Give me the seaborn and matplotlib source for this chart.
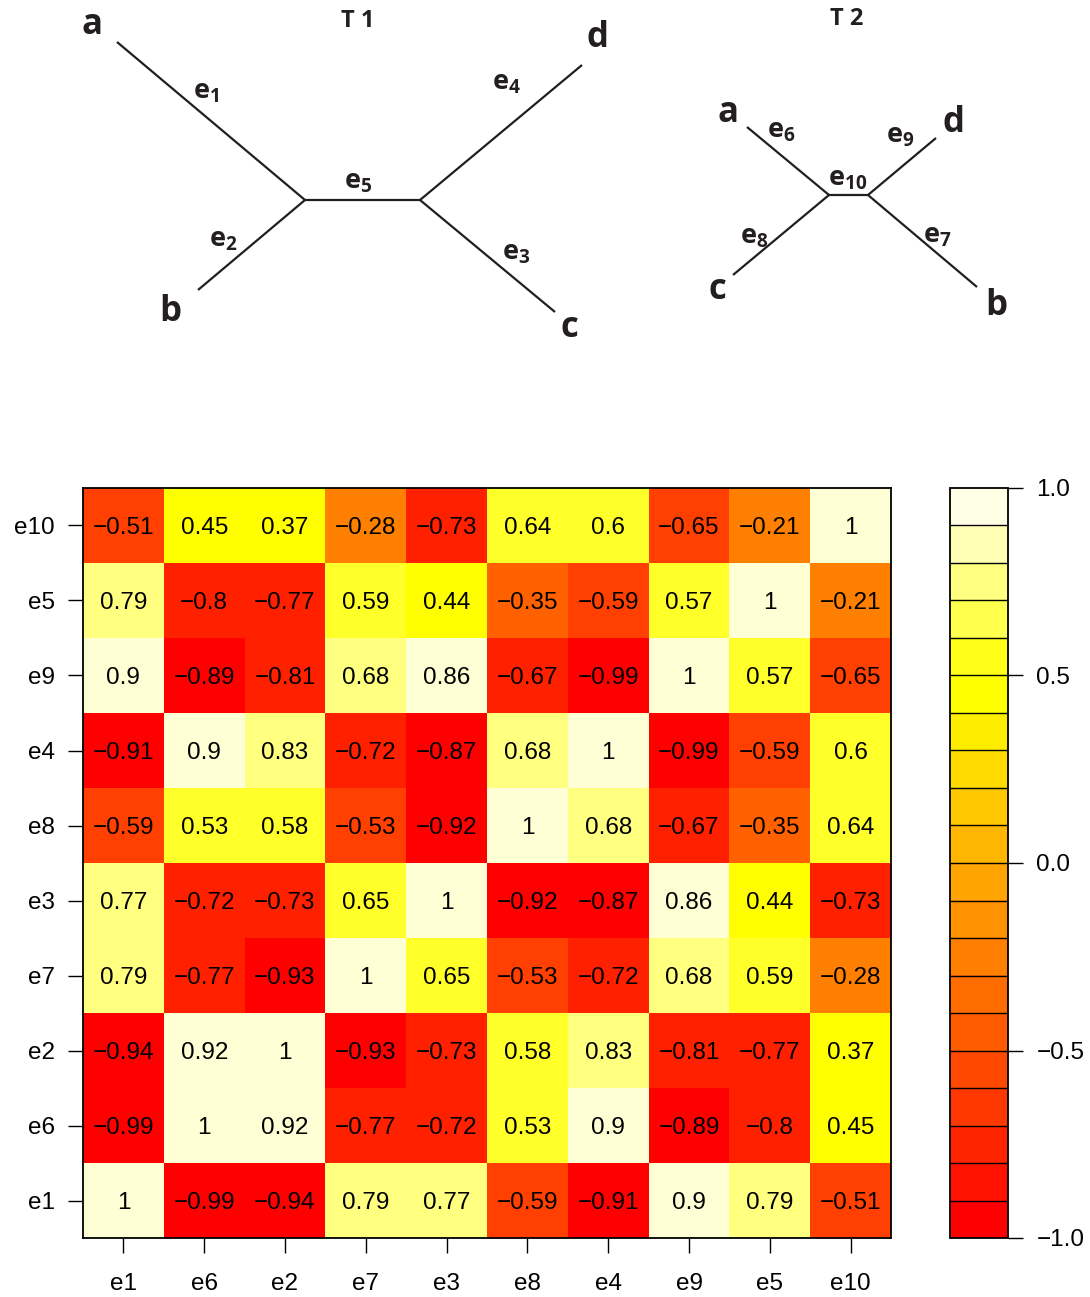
import numpy as np
import pandas as pd
import matplotlib
matplotlib.use("Agg")
import matplotlib.pyplot as plt
from matplotlib.colors import ListedColormap, BoundaryNorm, hsv_to_rgb
from matplotlib.cm import ScalarMappable
from matplotlib.ticker import NullLocator
import seaborn as sns

# ---- correlation data ----
edges = ["e1", "e6", "e2", "e7", "e3", "e8", "e4", "e9", "e5", "e10"]
row_order = ["e10", "e5", "e9", "e4", "e8", "e3", "e7", "e2", "e6", "e1"]
r_e10 = [-0.51, 0.45, 0.37, -0.28, -0.73, 0.64, 0.6, -0.65, -0.21, 1]
r_e5 = [0.79, -0.8, -0.77, 0.59, 0.44, -0.35, -0.59, 0.57, 1, -0.21]
r_e9 = [0.9, -0.89, -0.81, 0.68, 0.86, -0.67, -0.99, 1, 0.57, -0.65]
r_e4 = [-0.91, 0.9, 0.83, -0.72, -0.87, 0.68, 1, -0.99, -0.59, 0.6]
r_e8 = [-0.59, 0.53, 0.58, -0.53, -0.92, 1, 0.68, -0.67, -0.35, 0.64]
r_e3 = [0.77, -0.72, -0.73, 0.65, 1, -0.92, -0.87, 0.86, 0.44, -0.73]
r_e7 = [0.79, -0.77, -0.93, 1, 0.65, -0.53, -0.72, 0.68, 0.59, -0.28]
r_e2 = [-0.94, 0.92, 1, -0.93, -0.73, 0.58, 0.83, -0.81, -0.77, 0.37]
r_e6 = [-0.99, 1, 0.92, -0.77, -0.72, 0.53, 0.9, -0.89, -0.8, 0.45]
r_e1 = [1, -0.99, -0.94, 0.79, 0.77, -0.59, -0.91, 0.9, 0.79, -0.51]
colorbar_ticks = [-1.0, -0.5, 0.0, 0.5, 1.0]

# ---- tree diagrams (node positions in layout units) ----
t1_nodes = {"a": (117, 42), "b": (198, 290), "c": (555, 312), "d": (582, 65),
            "u": (305, 200), "v": (420, 200)}
t1_edges = [("a", "u", "1"), ("b", "u", "2"), ("u", "v", "5"),
            ("v", "d", "4"), ("v", "c", "3")]
t1_edge_label_pos = {"1": (206, 92), "2": (223, 240), "5": (358, 182),
                     "4": (506, 83), "3": (516, 253)}
t1_leaf_label_pos = {"a": (92, 25), "b": (170, 312), "d": (597, 38), "c": (569, 328)}

t2_nodes = {"a": (747, 127), "c": (733, 275), "d": (936, 138), "b": (977, 287),
            "u": (829, 195), "v": (868, 195)}
t2_edges = [("a", "u", "6"), ("c", "u", "8"), ("u", "v", "10"),
            ("v", "d", "9"), ("v", "b", "7")]
t2_edge_label_pos = {"6": (781, 131), "8": (754, 237), "10": (848, 179),
                     "9": (900, 136), "7": (937, 236)}
t2_leaf_label_pos = {"a": (728, 113), "c": (717, 290), "d": (953, 123), "b": (996, 306)}

sns.set_theme(style="white")
plt.rcParams["font.family"] = ["Liberation Sans", "DejaVu Sans"]
plt.rcParams["mathtext.fontset"] = "custom"
plt.rcParams["mathtext.rm"] = "Open Sans:bold"
plt.rcParams["mathtext.bf"] = "Open Sans:bold"
plt.rcParams["mathtext.it"] = "Open Sans:bold"
plt.rcParams["ytick.minor.size"] = 0
plt.rcParams["xtick.minor.size"] = 0

W, H = 1090, 1297
fig = plt.figure(figsize=(W / 100, H / 100), dpi=100)
fig.patch.set_facecolor("white")


def heat_colors(n):
    # red -> yellow ramp followed by fading yellows
    j = n // 4
    i = n - j
    cols = [hsv_to_rgb((h, 1.0, 1.0)) for h in np.linspace(0, 1 / 6, i)]
    if j > 0:
        sats = np.linspace(1 - 1 / (2 * j), 1 / (2 * j), j)
        cols += [hsv_to_rgb((1 / 6, s, 1.0)) for s in sats]
    return ListedColormap(cols)


# ---- trees ----
tax = fig.add_axes([0, 1 - 360 / H, 1, 360 / H])
tax.set_xlim(0, W)
tax.set_ylim(360, 0)
tax.axis("off")

tree_font = dict(family="Open Sans", weight="bold", color="#231f20")


def draw_tree(nodes, tree_edges, elabel_pos, leaf_pos, title, title_pos):
    for n1, n2, _ in tree_edges:
        x = [nodes[n1][0], nodes[n2][0]]
        y = [nodes[n1][1], nodes[n2][1]]
        tax.plot(x, y, color="#231f20", lw=1.6, solid_capstyle="butt")
    for lab, (x, y) in elabel_pos.items():
        tax.text(x, y, r"$\mathrm{e}_{\mathrm{%s}}$" % lab, fontsize=19.5,
                 ha="center", va="center", color="#231f20")
    for lab, (x, y) in leaf_pos.items():
        tax.text(x, y, lab, fontsize=25, ha="center", va="center", **tree_font)
    tax.text(title_pos[0], title_pos[1], title, fontsize=17, ha="center",
             va="center", **tree_font)


draw_tree(t1_nodes, t1_edges, t1_edge_label_pos, t1_leaf_label_pos, "T 1", (358, 21))
draw_tree(t2_nodes, t2_edges, t2_edge_label_pos, t2_leaf_label_pos, "T 2", (847, 19))

# ---- heatmap ----
matrix = pd.DataFrame([r_e10, r_e5, r_e9, r_e4, r_e8, r_e3, r_e7, r_e2, r_e6, r_e1],
                      index=row_order, columns=edges)
labels = matrix.map(lambda v: f"{v:g}".replace("-", "\u2212"))

cmap12 = heat_colors(12)
norm12 = BoundaryNorm(np.linspace(-1, 1, 13), 12)

ax = fig.add_axes([83 / W, 1 - 1238 / H, (891 - 83) / W, (1238 - 488) / H])
sns.heatmap(matrix, cmap=cmap12, norm=norm12, annot=labels, fmt="", cbar=False,
            ax=ax, annot_kws={"size": 17.5, "color": "black",
                              "va": "center_baseline"})
for sp in ax.spines.values():
    sp.set_visible(True)
    sp.set_color("black")
    sp.set_linewidth(1.3)
ax.tick_params(axis="both", which="major", length=10.5, width=1, color="black",
               labelsize=17.5, labelcolor="black", direction="out")
ax.tick_params(axis="x", pad=15, bottom=True)
ax.tick_params(axis="y", pad=10, left=True)
ax.set_yticklabels(ax.get_yticklabels(), rotation=0, va="center_baseline")
ax.set_xticklabels(ax.get_xticklabels(), rotation=0)
ax.set_xlabel("")
ax.set_ylabel("")

# ---- colour key ----
cmap20 = heat_colors(20)
bounds20 = np.linspace(-1, 1, 21)
norm20 = BoundaryNorm(bounds20, 20)
cax = fig.add_axes([950 / W, 1 - 1238 / H, (1008 - 950) / W, (1238 - 488) / H])
cb = fig.colorbar(ScalarMappable(norm=norm20, cmap=cmap20), cax=cax,
                  drawedges=False, ticks=colorbar_ticks)
cb.minorticks_off()
cb.ax.yaxis.set_minor_locator(NullLocator())
for b in bounds20[1:-1]:
    cax.axhline(b, color="black", lw=1.0)
cb.outline.set_edgecolor("black")
cb.outline.set_linewidth(1.3)
cb.ax.set_yticklabels([f"{t:.1f}".replace("-", "\u2212") for t in colorbar_ticks],
                      va="center_baseline")
cb.ax.tick_params(which="major", length=10.5, width=1, color="black", labelsize=17.5,
                  labelcolor="black", pad=10, right=True)
cb.ax.tick_params(which="minor", length=0, right=False, left=False)

fig.savefig("out.png", dpi=100, facecolor="white")
